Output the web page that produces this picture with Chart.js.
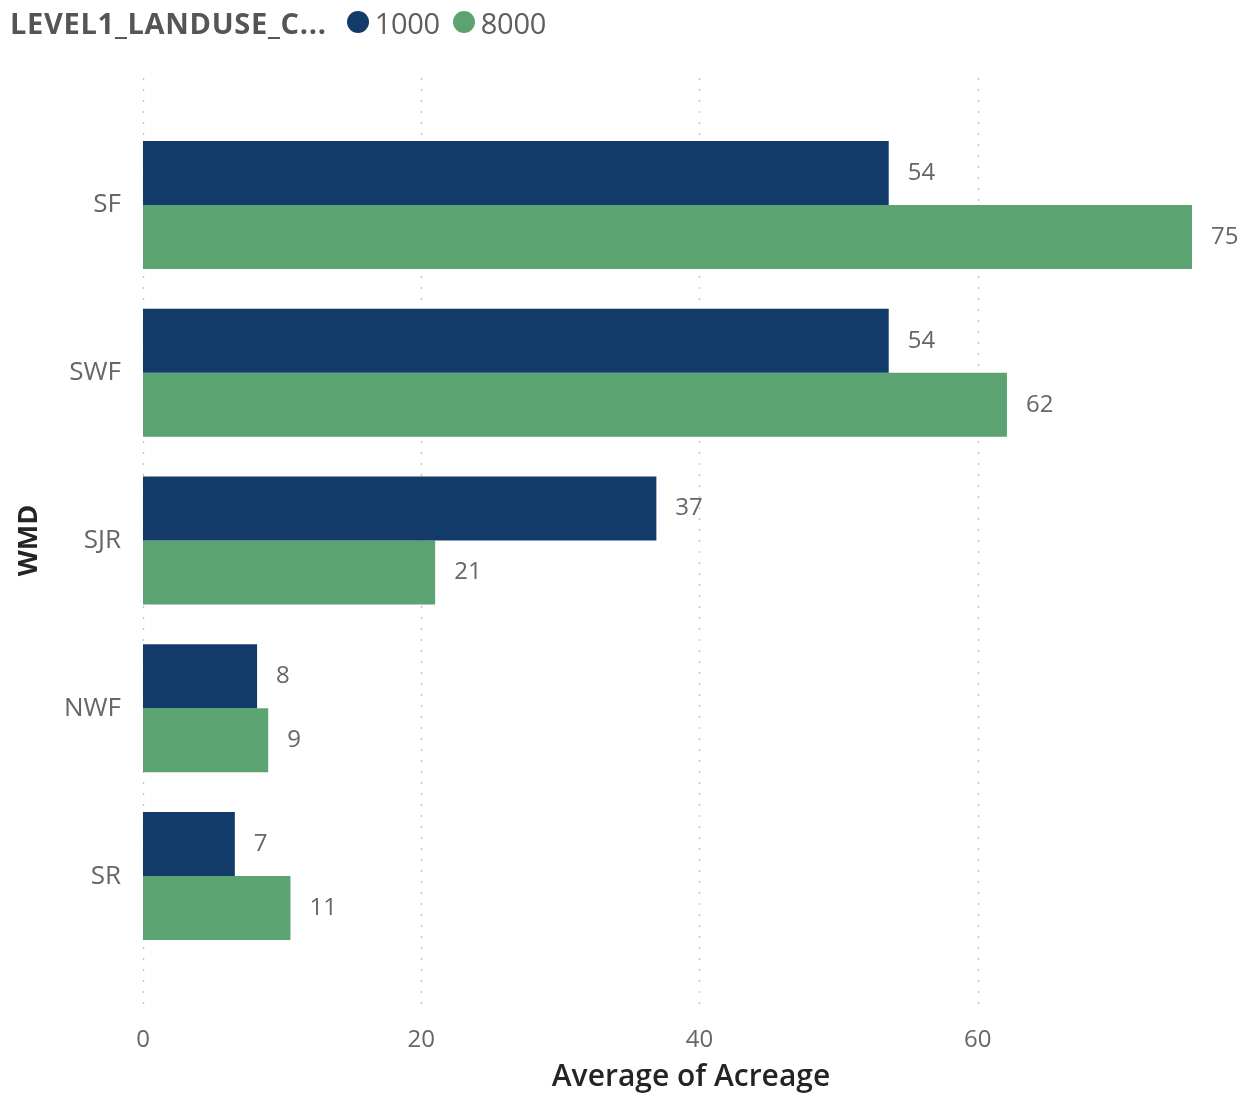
<!DOCTYPE html>
<html>
<head>
<meta charset="utf-8">
<script src="https://cdn.jsdelivr.net/npm/chart.js@4/dist/chart.umd.min.js"></script>
<style>
  html, body { margin: 0; padding: 0; background: #fff; }
  #wrap { position: relative; width: 1245px; height: 1095px; }
  #legend {
    position: absolute; left: 10px; top: 2px; height: 40px;
    display: flex; align-items: center;
    font-family: "Open Sans", "Noto Sans", sans-serif; font-size: 29px; color: #605e5c;
  }
  #legend .ttl { font-weight: 700; color: #555; margin-right: 20px; letter-spacing: 0.7px; }
  #legend .dot { width: 22px; height: 22px; border-radius: 50%; margin-right: 6px; }
  #legend .lbl { margin-right: 13px; letter-spacing: -0.3px; }
</style>
</head>
<body>
<div id="wrap">
  <div id="legend">
    <span class="ttl">LEVEL1_LANDUSE_C...</span>
    <span class="dot" style="background:#123b6a"></span><span class="lbl">1000</span>
    <span class="dot" style="background:#5ba371"></span><span class="lbl">8000</span>
  </div>
  <canvas id="grafico"></canvas>
</div>
<script>
// ---- datos ----
const categorias = ['SF', 'SWF', 'SJR', 'NWF', 'SR'];
const serie1000 = [53.6, 53.6, 36.9, 8.2, 6.6];
const serie8000 = [75.4, 62.1, 21.0, 9.0, 10.6];
const ticksX = [0, 20, 40, 60];
const nombresSeries = ['1000', '8000'];
const coloresSeries = ['#123b6a', '#5ba371'];

const FUENTE = '"Open Sans", "Noto Sans", sans-serif';

// lineas de rejilla punteadas que sobresalen del area del grafico
const rejillaPunteada = {
  id: 'rejillaPunteada',
  beforeDatasetsDraw(chart) {
    const ctx = chart.ctx, x = chart.scales.x;
    ctx.save();
    ctx.strokeStyle = '#c8c6c4';
    ctx.lineWidth = 1.5;
    ctx.setLineDash([2, 9]);
    ticksX.forEach(v => {
      const px = Math.round(x.getPixelForValue(v)) + 0.5;
      ctx.beginPath();
      ctx.moveTo(px, 78);
      ctx.lineTo(px, 1012);
      ctx.stroke();
    });
    ctx.restore();
  }
};

// etiquetas de valor al final de cada barra
const etiquetasValor = {
  id: 'etiquetasValor',
  afterDatasetsDraw(chart) {
    const ctx = chart.ctx;
    ctx.save();
    ctx.font = '24px ' + FUENTE;
    ctx.fillStyle = '#666666';
    ctx.textAlign = 'left';
    ctx.textBaseline = 'middle';
    chart.data.datasets.forEach((ds, i) => {
      chart.getDatasetMeta(i).data.forEach((bar, j) => {
        ctx.fillText(String(Math.round(ds.data[j])), bar.x + 19, bar.y);
      });
    });
    ctx.restore();
  }
};

// titulo del eje X (centrado respecto al visual completo, como en Power BI)
const tituloEjeX = {
  id: 'tituloEjeX',
  afterDraw(chart) {
    const ctx = chart.ctx;
    ctx.save();
    ctx.font = '600 30px ' + FUENTE;
    ctx.fillStyle = '#252423';
    ctx.textAlign = 'center';
    ctx.textBaseline = 'middle';
    ctx.fillText('Average of Acreage', 691, 1077);
    ctx.restore();
  }
};

const maxX = Math.max(...serie1000, ...serie8000);

new Chart(document.getElementById('grafico'), {
  type: 'bar',
  data: {
    labels: categorias,
    datasets: [
      { label: nombresSeries[0], data: serie1000, backgroundColor: coloresSeries[0], categoryPercentage: 0.763, barPercentage: 1.0 },
      { label: nombresSeries[1], data: serie8000, backgroundColor: coloresSeries[1], categoryPercentage: 0.763, barPercentage: 1.0 }
    ]
  },
  options: {
    indexAxis: 'y',
    responsive: true,
    maintainAspectRatio: false,
    animation: false,
    layout: { padding: { top: 121, right: 53, bottom: 0, left: 0 } },
    plugins: { legend: { display: false }, tooltip: { enabled: false } },
    scales: {
      x: {
        min: 0, max: maxX,
        afterBuildTicks: s => { s.ticks = ticksX.map(v => ({ value: v })); },
        afterFit: s => { s.height = 135; },
        grid: { display: false },
        border: { display: false },
        ticks: { color: '#666666', font: { family: FUENTE, size: 24 }, padding: 58, maxRotation: 0 }
      },
      y: {
        afterFit: s => { s.width = 143; },
        grid: { display: false },
        border: { display: false },
        ticks: { color: '#666666', font: { family: FUENTE, size: 26 }, padding: 14 },
        title: { display: true, text: 'WMD', color: '#252423', font: { family: FUENTE, size: 27, weight: '700' }, padding: { top: 13, bottom: 0 } }
      }
    }
  },
  plugins: [rejillaPunteada, etiquetasValor, tituloEjeX]
});
</script>
</body>
</html>
